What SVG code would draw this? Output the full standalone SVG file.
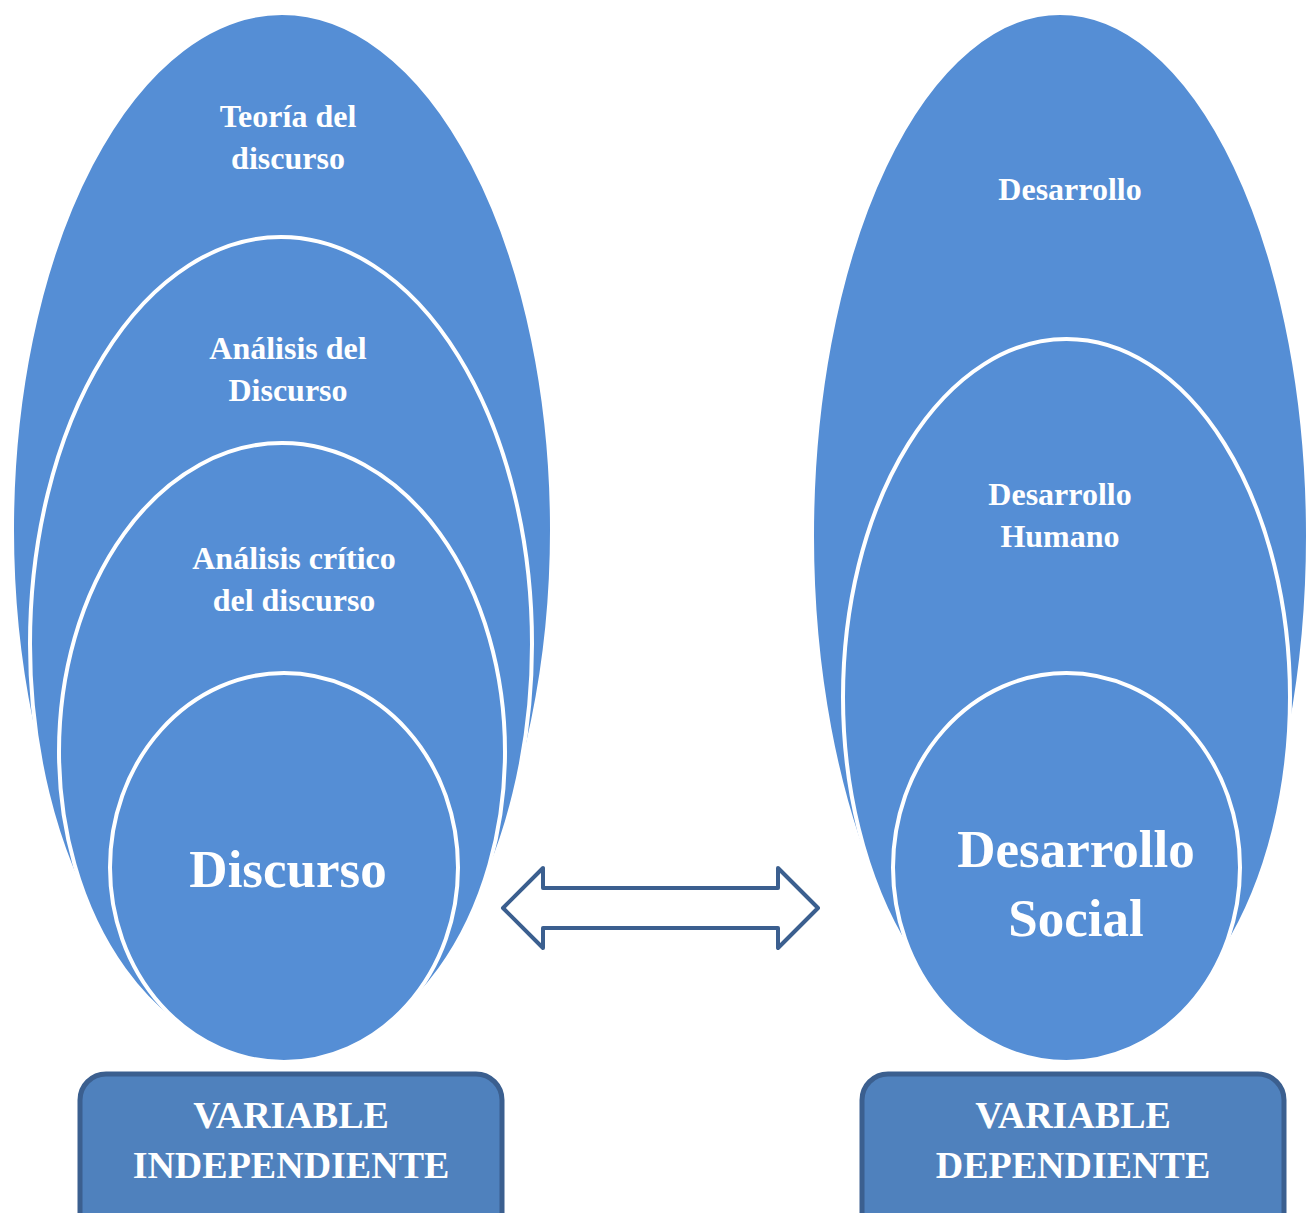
<svg xmlns="http://www.w3.org/2000/svg" width="1306" height="1213" viewBox="0 0 1306 1213">
<style>
.ell{fill:#558ed5;stroke:#ffffff;stroke-width:4}
.t{font-family:"Liberation Serif","Times New Roman",serif;font-weight:bold;fill:#ffffff;text-anchor:middle}
.s{font-size:32px}
.b{font-size:53px}
.v{font-size:38px}
.box{fill:#4f81bd;stroke:#3b5f8f;stroke-width:5}
</style>
<rect width="1306" height="1213" fill="#ffffff"/>
<g id="teoria">
<ellipse class="ell" cx="282" cy="530" rx="270" ry="517"/>
<text class="t s" x="288" y="127">Teoría del</text>
<text class="t s" x="288" y="169">discurso</text>
</g>
<g id="analisis">
<ellipse class="ell" cx="281" cy="644" rx="251" ry="407"/>
<text class="t s" x="288" y="359">Análisis del</text>
<text class="t s" x="288" y="401">Discurso</text>
</g>
<g id="acd">
<ellipse class="ell" cx="282" cy="751.5" rx="223" ry="308.5"/>
<text class="t s" x="294" y="569">Análisis crítico</text>
<text class="t s" x="294" y="611">del discurso</text>
</g>
<g id="discurso">
<ellipse class="ell" cx="284" cy="867.5" rx="174" ry="194.5"/>
<text class="t b" x="288" y="887">Discurso</text>
</g>
<g id="desarrollo">
<ellipse class="ell" cx="1060" cy="536" rx="248" ry="523"/>
<text class="t s" x="1070" y="200">Desarrollo</text>
</g>
<g id="humano">
<ellipse class="ell" cx="1066.5" cy="697" rx="223.5" ry="358"/>
<text class="t s" x="1060" y="505">Desarrollo</text>
<text class="t s" x="1060" y="547">Humano</text>
</g>
<g id="social">
<ellipse class="ell" cx="1066.5" cy="867.5" rx="173.5" ry="194.5"/>
<text class="t b" x="1076" y="867">Desarrollo</text>
<text class="t b" x="1076" y="936">Social</text>
</g>
<g id="connectors">
<path d="M503,908 L543,868 L543,888 L778,888 L778,868 L818,908 L778,948 L778,928 L543,928 L543,948 Z" fill="#ffffff" stroke="#3b5f8f" stroke-width="4" stroke-linejoin="round"/>
</g>
<g id="var-independiente">
<rect class="box" x="80" y="1074" width="422" height="170" rx="26" ry="26"/>
<text class="t v" x="291" y="1128">VARIABLE</text>
<text class="t v" x="291" y="1178">INDEPENDIENTE</text>
</g>
<g id="var-dependiente">
<rect class="box" x="862" y="1074" width="422" height="170" rx="26" ry="26"/>
<text class="t v" x="1073" y="1128">VARIABLE</text>
<text class="t v" x="1073" y="1178">DEPENDIENTE</text>
</g>
</svg>
